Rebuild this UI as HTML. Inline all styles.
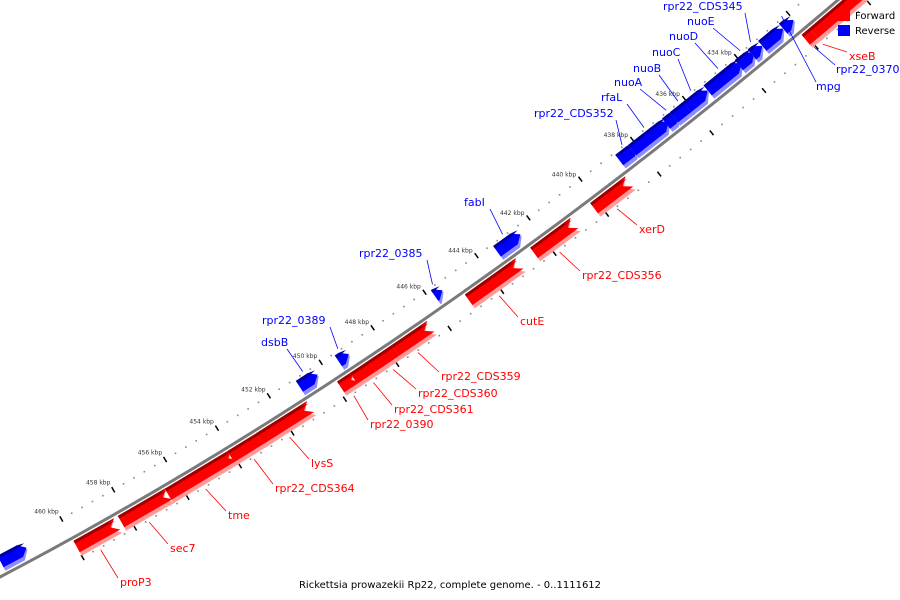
<!DOCTYPE html>
<html><head><meta charset="utf-8"><style>
html,body{margin:0;padding:0;background:#fff;width:900px;height:600px;overflow:hidden}
svg{display:block;font-family:"DejaVu Sans","Liberation Sans",sans-serif}
</style></head><body>
<svg id="map" width="900" height="600" viewBox="0 0 900 600">
<g id="ticks"></g>
<path id="backbone" fill="none" stroke="#7a7a7a" stroke-width="3"></path>
<g id="genes"></g>
<g id="labels"></g>
<g>
<rect x="838" y="10" width="12" height="11" fill="#ff0000"/>
<text x="855" y="19" font-size="10" fill="#000">Forward</text>
<rect x="838" y="25" width="12" height="11" fill="#0000ff"/>
<text x="855" y="34" font-size="10" fill="#000">Reverse</text>
</g>
<text x="450" y="588" font-size="10" text-anchor="middle" fill="#000">Rickettsia prowazekii Rp22, complete genome. - 0..1111612</text>
</svg>
<script>
const geneNames=["","dsbB","rpr22_0389","rpr22_0385","fabI","rpr22_CDS352","rfaL","nuoA","nuoB","nuoC","nuoD","nuoE","rpr22_CDS345","","mpg",
"proP3","sec7","tme","rpr22_CDS364","lysS","rpr22_0390","rpr22_CDS361","rpr22_CDS360","rpr22_CDS359","cutE","rpr22_CDS356","xerD","xseB",""];
const geneStarts=[462.5,451.0,449.5,445.8,443.4,438.7,438.2,436.9,436.6,436.1,435.3,434.1,433.6,433.2,432.4,
460.0,458.3,456.5,454.1,453.0,449.9,449.4,448.7,447.8,445.0,442.5,440.2,432.1,431.8];
const geneEnds=[461.5,450.3,449.1,445.5,442.5,438.0,436.8,436.4,435.8,435.3,434.0,433.5,433.2,432.4,432.0,
458.7,456.7,454.2,452.9,451.3,449.5,448.5,447.7,446.7,443.3,441.2,439.1,431.5,430.2];
const geneStrand=[-1,-1,-1,-1,-1,-1,-1,-1,-1,-1,-1,-1,-1,-1,-1,1,1,1,1,1,1,1,1,1,1,1,1,1,1];
const tickLabels=[434,436,438,440,442,444,446,448,450,452,454,456,458,460];
// label anchors (layout)
const labelPos={"dsbB":[261,346],"rpr22_0389":[262,324],"rpr22_0385":[359,257],"fabI":[464,206],"rpr22_CDS352":[534,117],"rfaL":[601,101],"nuoA":[614,86],"nuoB":[633,72],"nuoC":[652,56],"nuoD":[669,40],"nuoE":[687,25],"rpr22_CDS345":[663,10],"mpg":[816,90],
"proP3":[120,586],"sec7":[170,552],"tme":[228,519],"rpr22_CDS364":[275,492],"lysS":[311,467],"rpr22_0390":[370,428],"rpr22_CDS361":[394,413],"rpr22_CDS360":[418,397],"rpr22_CDS359":[441,380],"cutE":[520,325],"rpr22_CDS356":[582,279],"xerD":[639,233],"xseB":[849,60]};
const NS="http://www.w3.org/2000/svg";
function kx(k){return 72+(460-k)*26.08;}
function cy(x){return 577-0.5246*x-0.0001956*x*x;}
function P(k,off){const x=kx(k),y=cy(x),d=-0.5246-2*0.0001956*x,n=Math.hypot(d,1);return [x+d/n*off,y-1/n*off];}
// backbone
let dpath="";for(let x=-10;x<=860;x+=10){dpath+=(x===-10?"M":"L")+x+","+cy(x).toFixed(1)+" ";}
document.getElementById("backbone").setAttribute("d",dpath);
// ticks
const tg=document.getElementById("ticks");
for(let i=0;i<=80;i++){const k=428+i*0.4;const major=Math.abs(k/2-Math.round(k/2))<0.01;
 for(const s of [1,-1]){
  if(major){const a=P(k,s*19),b=P(k,s*25);const l=document.createElementNS(NS,"line");
   l.setAttribute("x1",a[0]);l.setAttribute("y1",a[1]);l.setAttribute("x2",b[0]);l.setAttribute("y2",b[1]);
   l.setAttribute("stroke","#000");l.setAttribute("stroke-width","1.5");
   
   tg.appendChild(l);}
  else{const a=P(k,s*22);const c=document.createElementNS(NS,"rect");
   c.setAttribute("x",a[0]-0.8);c.setAttribute("y",a[1]-0.8);c.setAttribute("width",1.6);c.setAttribute("height",1.6);c.setAttribute("fill","#888");
   
   tg.appendChild(c);}
 }}
tickLabels.forEach(k=>{const a=P(k+0.35,34);const t=document.createElementNS(NS,"text");
 t.setAttribute("x",a[0]);t.setAttribute("y",a[1]);t.setAttribute("font-size","6");t.setAttribute("fill","#333");t.setAttribute("text-anchor","middle");
 t.textContent=k+" kbp";
 
 tg.appendChild(t);});
// genes
const gg=document.getElementById("genes"),lg=document.getElementById("labels");
function poly(ks,ke,o1,o2,dir,col,name){
 const len=Math.abs(ke-ks),a=Math.min(0.25,len);const tip=ke, back=ke-dir*a;
 const m=(o1+o2)/2;
 const pts=[P(ks,o1),P(back,o1),P(tip,m),P(back,o2),P(ks,o2)];
 const p=document.createElementNS(NS,"polygon");
 p.setAttribute("points",pts.map(q=>q[0].toFixed(1)+","+q[1].toFixed(1)).join(" "));
 p.setAttribute("fill",col);
 
 
 return p;}
geneNames.forEach((nm,i)=>{
 const s=geneStrand[i],ks=geneStarts[i],ke=geneEnds[i];const dir=s>0?1:-1;
 const g=document.createElementNS(NS,"g");
 
 
 if(s>0){
  g.appendChild(poly(ks,ke,-3,-20,dir,"#ff9a9a","gene-shade-light"));
  g.appendChild(poly(ks,ke,-3,-16,dir,"#ff0000","gene-body"));
  g.appendChild(poly(ks,ke,-3,-6,dir,"#a00000","gene-shade-dark"));
 }else{
  g.appendChild(poly(ks,ke,3,20,dir,"#8c8cff","gene-shade-light"));
  g.appendChild(poly(ks,ke,7,20,dir,"#0000ff","gene-body"));
  g.appendChild(poly(ks,ke,17,20,dir,"#0000a0","gene-shade-dark"));
 }
 gg.appendChild(g);
 const lp=labelPos[nm];
 if(lp){const col=s>0?"#ff0000":"#0000ff";const mid=(ks+ke)/2;const e=P(mid,s>0?-24:24);
  const w=nm.length*7;
  let sx,sy;
  if(s>0){sx=lp[0]-2;sy=lp[1]-8;}else{sx=(nm==="mpg")?lp[0]:lp[0]+w-2;sy=(nm==="mpg")?lp[1]-8:lp[1]+3;}
  const l=document.createElementNS(NS,"line");
  l.setAttribute("x1",sx);l.setAttribute("y1",sy);l.setAttribute("x2",e[0]);l.setAttribute("y2",e[1]);
  l.setAttribute("stroke",col);l.setAttribute("stroke-width","0.8");
  
  lg.appendChild(l);
  const t=document.createElementNS(NS,"text");t.setAttribute("x",lp[0]);t.setAttribute("y",lp[1]);
  t.setAttribute("font-size","11");t.setAttribute("fill",col);t.textContent=nm;
  
  lg.appendChild(t);}
});
// extra label rpr22_0370
(function(){const t=document.createElementNS(NS,"text");t.setAttribute("x",836);t.setAttribute("y",73);t.setAttribute("font-size","11");t.setAttribute("fill","#0000ff");t.textContent="rpr22_0370";

lg.appendChild(t);
const l=document.createElementNS(NS,"line");l.setAttribute("x1",835);l.setAttribute("y1",65);l.setAttribute("x2",814);l.setAttribute("y2",47);l.setAttribute("stroke","#0000ff");l.setAttribute("stroke-width","0.8");

lg.appendChild(l);})();
</script>
</body></html>
